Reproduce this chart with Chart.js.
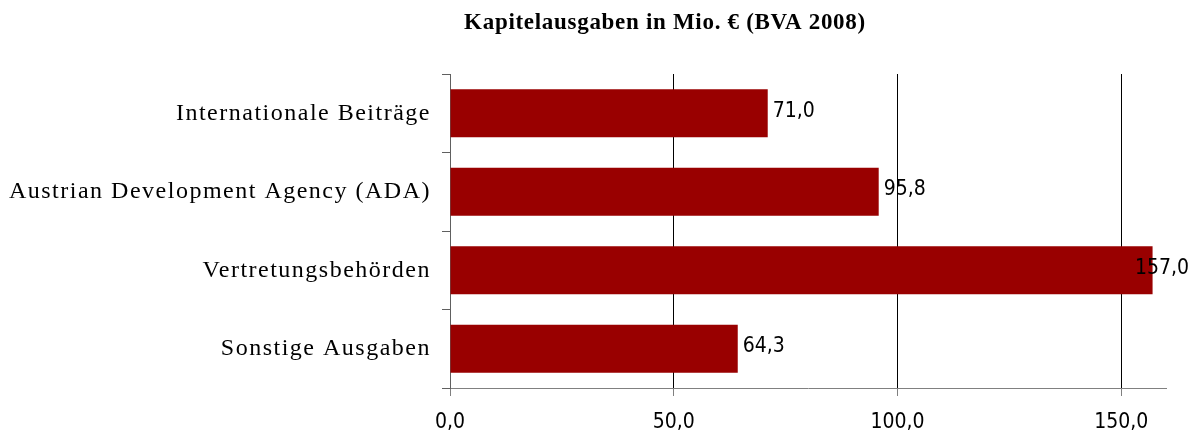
<!DOCTYPE html>
<html>
<head>
<meta charset="utf-8">
<script src="https://cdn.jsdelivr.net/npm/chart.js@4.4.1/dist/chart.umd.min.js"></script>
<style>
    html, body { margin: 0; padding: 0; background: #fff; }
    #wrap { width: 1195px; height: 436px; position: relative; }
</style>
</head>
<body>
<div id="wrap"><canvas id="kapitelChart"></canvas></div>
<script>
// Data
const titleText = 'Kapitelausgaben in Mio. € (BVA 2008)';
const categories = ['Internationale Beiträge', 'Austrian Development Agency (ADA)', 'Vertretungsbehörden', 'Sonstige Ausgaben'];
const values = [71.0, 95.8, 157.0, 64.3];
const tickValues = [0, 50, 100, 150];

const narrowFont = "'Liberation Sans Narrow', 'Arial Narrow', 'DejaVu Sans Condensed', sans-serif";
const serifFont = "'Liberation Serif', 'Times New Roman', serif";

// German number format: 71,0
function fmt(v) {
    return v.toFixed(1).replace('.', ',');
}

// Draws title, category labels (with letter spacing) and value labels
const textPlugin = {
    id: 'textPlugin',
    afterDraw(chart) {
        const ctx = chart.ctx;
        const area = chart.chartArea;

        // Title
        ctx.save();
        ctx.font = 'bold 23px ' + serifFont;
        ctx.fillStyle = '#000';
        ctx.textAlign = 'center';
        ctx.textBaseline = 'middle';
        ctx.letterSpacing = '0.7px';
        ctx.fillText(titleText, 665, 23);
        ctx.restore();

        // Category labels
        const yScale = chart.scales.y;
        ctx.save();
        ctx.font = '24px ' + serifFont;
        ctx.fillStyle = '#000';
        ctx.textAlign = 'right';
        ctx.textBaseline = 'middle';
        ctx.letterSpacing = '1.5px';
        categories.forEach((label, i) => {
            ctx.fillText(label, area.left - 19, yScale.getPixelForValue(i));
        });
        ctx.restore();

        // Value labels
        const meta = chart.getDatasetMeta(0);
        ctx.save();
        ctx.font = '21px ' + narrowFont;
        ctx.fillStyle = '#000';
        ctx.textAlign = 'left';
        ctx.textBaseline = 'middle';
        meta.data.forEach((bar, i) => {
            const text = fmt(values[i]);
            const w = ctx.measureText(text).width;
            let x = bar.x + 5;
            if (x + w > chart.width - 6) {
                x = chart.width - 6 - w;
            }
            ctx.fillText(text, x, bar.y - 2);
        });
        ctx.restore();
    }
};

const ctx = document.getElementById('kapitelChart');
new Chart(ctx, {
    type: 'bar',
    data: {
        labels: categories,
        datasets: [{
            data: values,
            backgroundColor: '#990000',
            borderWidth: 0,
            barPercentage: 0.61,
            categoryPercentage: 1.0
        }]
    },
    options: {
        indexAxis: 'y',
        responsive: true,
        maintainAspectRatio: false,
        animation: false,
        layout: {
            padding: { top: 74, left: 442, right: 29, bottom: 0 }
        },
        plugins: {
            legend: { display: false },
            title: { display: false },
            tooltip: { enabled: false }
        },
        scales: {
            x: {
                min: 0,
                max: 160,
                afterBuildTicks: (scale) => {
                    scale.ticks = tickValues.map(v => ({ value: v }));
                },
                afterFit: (scale) => {
                    scale.height = 48;
                },
                ticks: {
                    color: '#000',
                    font: { family: narrowFont, size: 21 },
                    padding: 14,
                    callback: (v) => fmt(v)
                },
                grid: {
                    color: (c) => (c.tick && c.tick.value === 0) ? 'rgba(0,0,0,0)' : '#000',
                    tickColor: '#808080',
                    tickLength: 8,
                    lineWidth: 1
                },
                border: { color: '#808080', width: 1 }
            },
            y: {
                ticks: { display: false },
                grid: {
                    drawOnChartArea: false,
                    tickLength: 8,
                    tickColor: '#606060'
                },
                border: { color: '#606060', width: 1 }
            }
        }
    },
    plugins: [textPlugin]
});
</script>
</body>
</html>
